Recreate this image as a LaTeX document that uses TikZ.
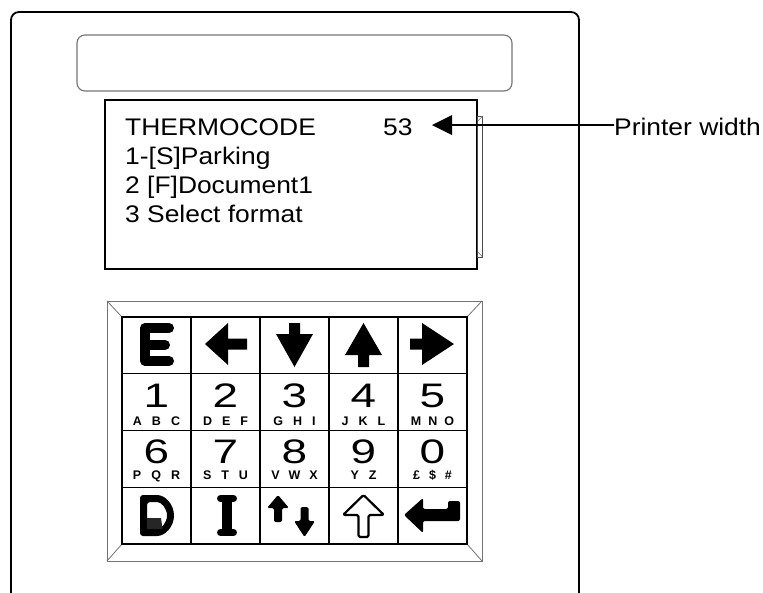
\documentclass[tikz,border=0pt]{standalone}
\usepackage{fontspec}
\setmainfont{Liberation Sans}
\usepackage{graphicx}
\begin{document}
\begin{tikzpicture}[x=1pt,y=-1pt,
  disptext/.style={anchor=base west, inner sep=0pt, font=\fontsize{24}{28}\selectfont},
  digit/.style={anchor=base, inner sep=0pt, font=\fontsize{34}{36}\selectfont},
  letters/.style={anchor=base, inner sep=0pt, font=\fontsize{12.5}{14}\selectfont\bfseries},
  icon/.style={fill=black, draw=none},
  bezel/.style={draw=black!55, line width=0.8pt},
  gridline/.style={draw=black, line width=1.1pt},
  panel/.style={draw=black, line width=1.8pt, rounded corners=8pt}]
\useasboundingbox (0,0) rectangle (763,592);

% outer panel
\draw[panel] (11,600) -- (11,12) -- (579,12) -- (579,600);
% top window
\draw[draw=black!55, line width=1.1pt, rounded corners=8pt] (77,35) rectangle (512,91);
% display
\draw[draw=black, line width=2pt] (105,100) rectangle (477,269);
\draw[draw=black!70, line width=0.8pt] (477,116) rectangle (482.5,257);
\draw[draw=black!50, line width=0.6pt] (478,121) -- (482.5,116) (478,252) -- (482.5,257);

\node[disptext] (t1) at (125,135) {\scalebox{1.1}[1]{THERMOCODE}};
\node[disptext] (t53) at (383,135) {\scalebox{1.1}[1]{53}};
\node[disptext] (t2) at (125,164) {\scalebox{1.1}[1]{1-[S]Parking}};
\node[disptext] (t3) at (125,193) {\scalebox{1.1}[1]{2 [F]Document1}};
\node[disptext] (t4) at (125,222) {\scalebox{1.1}[1]{3 Select format}};

% printer width pointer
\node[disptext] (pw) at (614,135) {\scalebox{1.1}[1]{Printer width}};
\coordinate (tip) at (432,125);
\draw[line width=1.5pt] (452,125) -- (pw.west |- 0,125) -- ++(-6,0);
\fill (tip) -- (452,115) -- (452,135) -- cycle;

% keypad bezel
\draw[bezel] (107,301) rectangle (482,561);
\draw[bezel] (107,301) -- (122,317) (482,301) -- (467,317)
             (107,561) -- (122,544) (482,561) -- (467,544);
% grid
\fill[white] (122,317) rectangle (467,544);
\foreach \i in {1,...,4} \draw[gridline] (122+69*\i,317) -- (122+69*\i,544);
\foreach \j in {1,2,3} \draw[gridline] (122,317+56.75*\j) -- (467,317+56.75*\j);
\draw[draw=black, line width=2.4pt] (122,317) rectangle (467,544);

% row 1 icons
\draw[line width=10pt, line cap=round, line join=round]
  (169,328) -- (145,328) -- (145,361) -- (169,361) (145,345) -- (165,345);
\fill[icon] (205,344) -- (228,323) -- (228,338.5) -- (247,338.5) -- (247,349.5) -- (228,349.5) -- (228,365) -- cycle;
\fill[icon] (289,323) -- (300,323) -- (300,334) -- (313,334) -- (294.5,367) -- (276,334) -- (289,334) -- cycle;
\fill[icon] (363.5,323) -- (382,355) -- (369,355) -- (369,367) -- (358,367) -- (358,355) -- (345,355) -- cycle;
\fill[icon] (410,338.5) -- (422,338.5) -- (422,323) -- (454,344) -- (422,365) -- (422,349.5) -- (410,349.5) -- cycle;

% rows 2 and 3
\node[digit] (d1) at (156.5,407) {\scalebox{1.35}[1]{1}};
\node[digit] (d2) at (225.5,407) {\scalebox{1.35}[1]{2}};
\node[digit] (d3) at (294.5,407) {\scalebox{1.35}[1]{3}};
\node[digit] (d4) at (363.5,407) {\scalebox{1.35}[1]{4}};
\node[digit] (d5) at (432.5,407) {\scalebox{1.35}[1]{5}};
\node[letters] (l1) at (156.5,425) {A\hspace{10pt}B\hspace{10pt}C};
\node[letters] (l2) at (225.5,425) {D\hspace{10pt}E\hspace{10pt}F};
\node[letters] (l3) at (294.5,425) {G\hspace{10pt}H\hspace{10pt}I};
\node[letters] (l4) at (363.5,425) {J\hspace{10pt}K\hspace{10pt}L};
\node[letters] (l5) at (432.5,425) {M\hspace{7pt}N\hspace{7pt}O};
\node[digit] (d6) at (156.5,463) {\scalebox{1.35}[1]{6}};
\node[digit] (d7) at (225.5,463) {\scalebox{1.35}[1]{7}};
\node[digit] (d8) at (294.5,463) {\scalebox{1.35}[1]{8}};
\node[digit] (d9) at (363.5,463) {\scalebox{1.35}[1]{9}};
\node[digit] (d0) at (432.5,463) {\scalebox{1.35}[1]{0}};
\node[letters] (l6) at (156.5,479) {P\hspace{10pt}Q\hspace{10pt}R};
\node[letters] (l7) at (225.5,479) {S\hspace{10pt}T\hspace{10pt}U};
\node[letters] (l8) at (294.5,479) {V\hspace{9pt}W\hspace{9pt}X};
\node[letters] (l9) at (363.5,479) {Y\hspace{10pt}Z};
\node[letters] (l0) at (432.5,479) {£\hspace{9pt}\$\hspace{9pt}\#};

% row 4 icons
\fill[even odd rule, rounded corners=3pt]
  (140,495) -- (154,495) arc[start angle=-90, end angle=90, x radius=20, y radius=20.5] -- (140,536) -- cycle
  (147,502) -- (154,502) arc[start angle=-90, end angle=90, x radius=13, y radius=13.5] -- (147,529) -- cycle;
\fill[black!85] (147,518) -- (161,518) -- (162.5,529) -- (147,529) -- cycle;
\draw[line width=7pt, line cap=round] (220.5,498.5) -- (233.5,498.5) (220.5,532.5) -- (233.5,532.5);
\draw[line width=10pt] (227,498) -- (227,533);
\fill[icon, rounded corners=1.5pt] (278,495) -- (289,508) -- (282,508) -- (282,522) -- (274,522) -- (274,508) -- (267,508) -- cycle;
\fill[icon, rounded corners=1.5pt] (300.5,507) -- (308.5,507) -- (308.5,521) -- (315,521) -- (304.5,537) -- (294,521) -- (300.5,521) -- cycle;
\draw[line width=2.2pt, line join=round, rounded corners=1.5pt] (363.5,495) -- (384,515) -- (368.5,515) -- (368.5,537) -- (358.5,537) -- (358.5,515) -- (343,515) -- cycle;
\fill[icon, rounded corners=2pt] (404,515) -- (423,498) -- (423,509) -- (448,509) -- (448,501) -- (460,501) -- (460,521) -- (423,521) -- (423,533) -- cycle;
\end{tikzpicture}
\end{document}
